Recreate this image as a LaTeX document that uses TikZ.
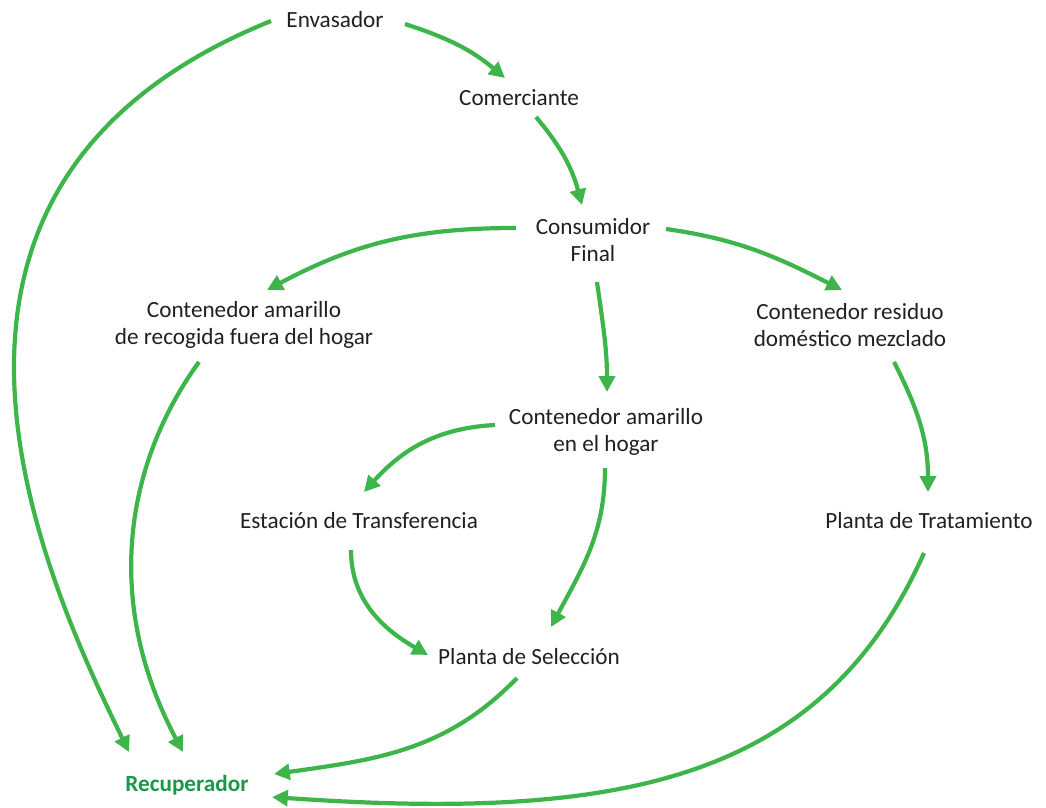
\documentclass[tikz,border=0pt]{standalone}
\usepackage{fontspec}
\setmainfont{Carlito}
\usepackage{tikz}
\usetikzlibrary{arrows.meta, positioning}
\definecolor{flowgreen}{RGB}{61,181,74}
\definecolor{recgreen}{RGB}{24,152,72}
\definecolor{txtgray}{RGB}{35,31,32}

\begin{document}
\begin{tikzpicture}[x=0.02cm, y=-0.02cm,
  lbl/.style={align=center, text=txtgray, font=\fontsize{13.2}{15.2}\selectfont, inner sep=0pt},
  flow/.style={draw=flowgreen, line width=2.4pt, -{Triangle[length=9pt,width=9pt]}}]
\useasboundingbox (0,0) rectangle (1046,808);
\node[lbl] (env) at (335,20) {Envasador};
\node[lbl] (com) at (519,98) {Comerciante};
\node[lbl] (cons) at (593,240) {Consumidor\\Final};
\node[lbl] (fuera) at (244,325) {Contenedor amarillo\\de recogida fuera del hogar};
\node[lbl] (resid) at (850,325) {Contenedor residuo\\dom\'estico mezclado};
\node[lbl] (hogar) at (606,432) {Contenedor amarillo\\en el hogar};
\node[lbl] (est) at (359,521) {Estaci\'on de Transferencia};
\node[lbl] (trat) at (929,521) {Planta de Tratamiento};
\node[lbl] (sel) at (529,657) {Planta de Selecci\'on};
\node[lbl, text=recgreen, font=\fontsize{13.2}{15.2}\selectfont\bfseries] (rec) at (187,785) {Recuperador};

\draw ([shift={(70,4)}]env.center) edge[flow, out=-18, in=140] ([shift={(-14,-20)}]com.center)
      ([shift={(17,19)}]com.center) edge[flow, out=-50, in=105] ([shift={(-11,-35)}]cons.center)
      ([shift={(-77,-12)}]cons.center) edge[flow, out=180, in=28] ([shift={(23,-35)}]fuera.center)
      ([shift={(73,-11)}]cons.center) edge[flow, out=-8, in=153] ([shift={(-8,-35)}]resid.center)
      ([shift={(4,42)}]cons.center) edge[flow, out=-82, in=90] ([shift={(1,-40)}]hogar.center)
      ([shift={(-111,-7)}]hogar.center) edge[flow, out=183, in=48] ([shift={(5,-29)}]est.center)
      ([shift={(-1,36)}]hogar.center) edge[flow, out=-90, in=62] ([shift={(22,-30)}]sel.center)
      ([shift={(-8,29)}]est.center) edge[flow, out=-90, in=150] ([shift={(-101,-2)}]sel.center)
      ([shift={(44,37)}]resid.center) edge[flow, out=-63, in=90] ([shift={(-1,-29)}]trat.center)
      ([shift={(-64,1)}]env.center) edge[flow, out=202, in=116, out looseness=1.5, in looseness=0.7] ([shift={(-58,-33)}]rec.center)
      ([shift={(-45,37)}]fuera.center) edge[flow, out=234, in=118, out looseness=0.84, in looseness=1.1] ([shift={(-4,-33)}]rec.center)
      ([shift={(-12,21)}]sel.center) edge[flow, out=226, in=8] ([shift={(87,-11)}]rec.center)
      ([shift={(-5,32)}]trat.center) edge[flow, out=246, in=-4, out looseness=0.92, in looseness=1.28] ([shift={(85,12)}]rec.center);
\end{tikzpicture}
\end{document}
